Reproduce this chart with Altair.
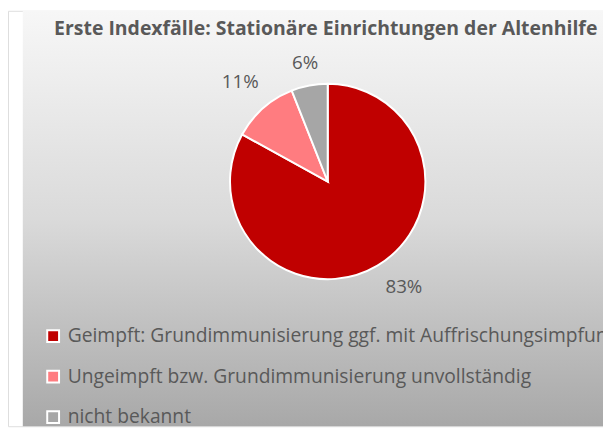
import altair as alt
import pandas as pd

categories = [
    "Geimpft: Grundimmunisierung ggf. mit Auffrischungsimpfung",
    "Ungeimpft bzw. Grundimmunisierung unvollständig",
    "nicht bekannt",
]
values = [83, 11, 6]
labels = ["83%", "11%", "6%"]
colors = ["#C00000", "#FF7C80", "#A6A6A6"]
title_text = "Erste Indexfälle: Stationäre Einrichtungen der Altenhilfe"

W, H = 603, 421
CX, CY = 324, 173
FONT = "Open Sans"
TXT = "#595959"

df = pd.DataFrame({"cat": categories, "value": values, "label": labels, "order": [0, 1, 2]})

bg = alt.Chart(pd.DataFrame({"a": [0]})).mark_rect(
    color=alt.Gradient(
        gradient="linear", x1=0, y1=0, x2=0, y2=1,
        stops=[alt.GradientStop(color="#F7F7F7", offset=0),
               alt.GradientStop(color="#DADADA", offset=0.5),
               alt.GradientStop(color="#A8A8A8", offset=1)],
    )
).encode(x=alt.value(15), x2=alt.value(W), y=alt.value(0), y2=alt.value(H))

title = alt.Chart(pd.DataFrame({"t": [title_text]})).mark_text(
    font=FONT, fontSize=19.7, fontWeight="bold", color=TXT, align="center", baseline="alphabetic"
).encode(x=alt.value(322), y=alt.value(25), text="t:N")

base = alt.Chart(df).encode(
    theta=alt.Theta("value:Q", stack=True),
    order=alt.Order("order:Q"),
)

pie = base.mark_arc(outerRadius=99, stroke="white", strokeWidth=2).encode(
    x=alt.value(CX), y=alt.value(CY),
    color=alt.Color(
        "cat:N",
        scale=alt.Scale(domain=categories, range=colors),
        legend=alt.Legend(
            title=None, orient="none", legendX=36, legendY=320,
            symbolType="square", symbolSize=144, symbolStrokeColor="white",
            symbolStrokeWidth=2, symbolOpacity=1, labelFont=FONT, labelFontSize=19.5,
            labelColor=TXT, labelLimit=2000, rowPadding=20, labelOffset=5,
        ),
    ),
)

def label_layer(lbl, radius, dx=0, dy=0):
    return base.mark_text(radius=radius, font=FONT, fontSize=19, color=TXT, dx=dx, dy=dy).encode(
        x=alt.value(CX), y=alt.value(CY),
        text=alt.condition(alt.datum.label == lbl, "label:N", alt.value("")),
    )

t83 = label_layer("83%", 132, dx=10, dy=-7)
t11 = label_layer("11%", 134)
t6 = label_layer("6%", 122)

chart = alt.layer(bg, title, pie, t83, t11, t6).properties(
    width=W, height=H, padding=0, autosize=alt.AutoSizeParams(type="none")
).configure_view(stroke=None).configure(background="white")

chart.save("out.html", embed_options={"renderer": "svg", "actions": False})
